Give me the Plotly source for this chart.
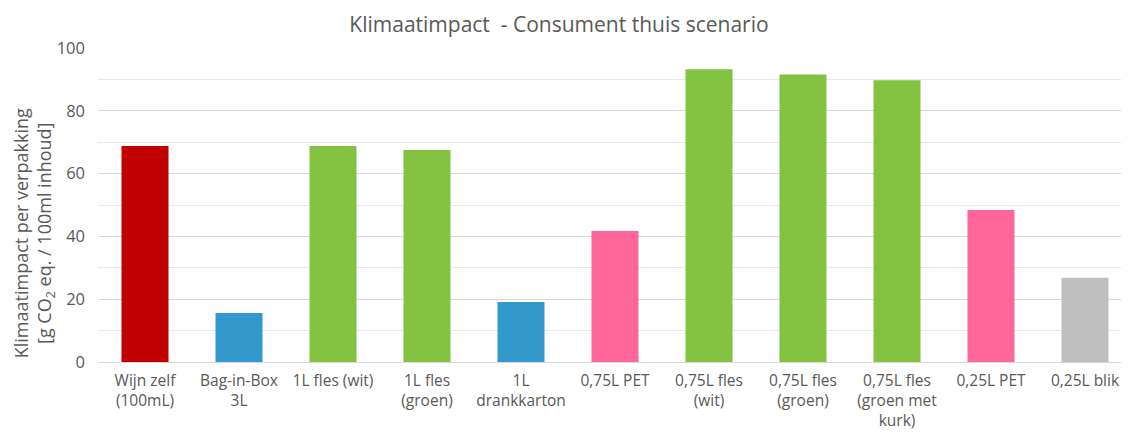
import plotly.graph_objects as go

categories = ["Wijn zelf<br>(100mL)", "Bag-in-Box<br>3L", "1L fles (wit)", "1L fles<br>(groen)",
              "1L<br>drankkarton", "0,75L PET", "0,75L fles<br>(wit)", "0,75L fles<br>(groen)",
              "0,75L fles<br>(groen met<br>kurk)", "0,25L PET", "0,25L blik"]
values = [68.8, 15.6, 68.8, 67.5, 19.1, 41.7, 93.2, 91.6, 89.7, 48.4, 26.8]
colors = ["#C00000", "#3399CC", "#84C241", "#84C241", "#3399CC", "#FF6699",
          "#84C241", "#84C241", "#84C241", "#FF6699", "#BFBFBF"]
y_ticks = [0, 20, 40, 60, 80, 100]

FONT = "Open Sans"
GREY = "#595959"

fig = go.Figure(go.Bar(x=categories, y=values, marker=dict(color=colors, line=dict(width=0)),
                       width=0.5))

fig.update_layout(
    width=1129, height=433,
    margin=dict(l=90, r=5, t=40, b=79),
    paper_bgcolor="white", plot_bgcolor="white",
    font=dict(family=FONT, color=GREY, size=15),
    title=dict(text="Klimaatimpact  - Consument thuis scenario", x=0.488, xanchor="center",
               y=0.962, yanchor="middle", font=dict(size=21, color=GREY, family=FONT)),
    showlegend=False,
    bargap=0.5,
)
fig.update_xaxes(showline=True, linecolor="#D9D9D9", linewidth=1, ticks="",
                 tickfont=dict(size=15.5, color=GREY), ticklabelstandoff=4)
fig.update_yaxes(range=[0, 100], tickvals=y_ticks, showgrid=True, gridcolor="#D9D9D9", gridwidth=1,
                 minor=dict(dtick=10, showgrid=True, gridcolor="#E8E8E8", gridwidth=1),
                 zeroline=False, ticks="", tickfont=dict(size=16.5, color=GREY), ticklabelstandoff=12)
fig.add_annotation(text="Klimaatimpact per verpakking<br>[g CO<sub>2</sub> eq. / 100ml inhoud]",
                   xref="paper", yref="paper", x=0, y=0.41, xshift=-64, xanchor="center", yanchor="middle",
                   textangle=-90, showarrow=False, font=dict(size=18, color=GREY, family=FONT))

fig.write_html("out.html")
